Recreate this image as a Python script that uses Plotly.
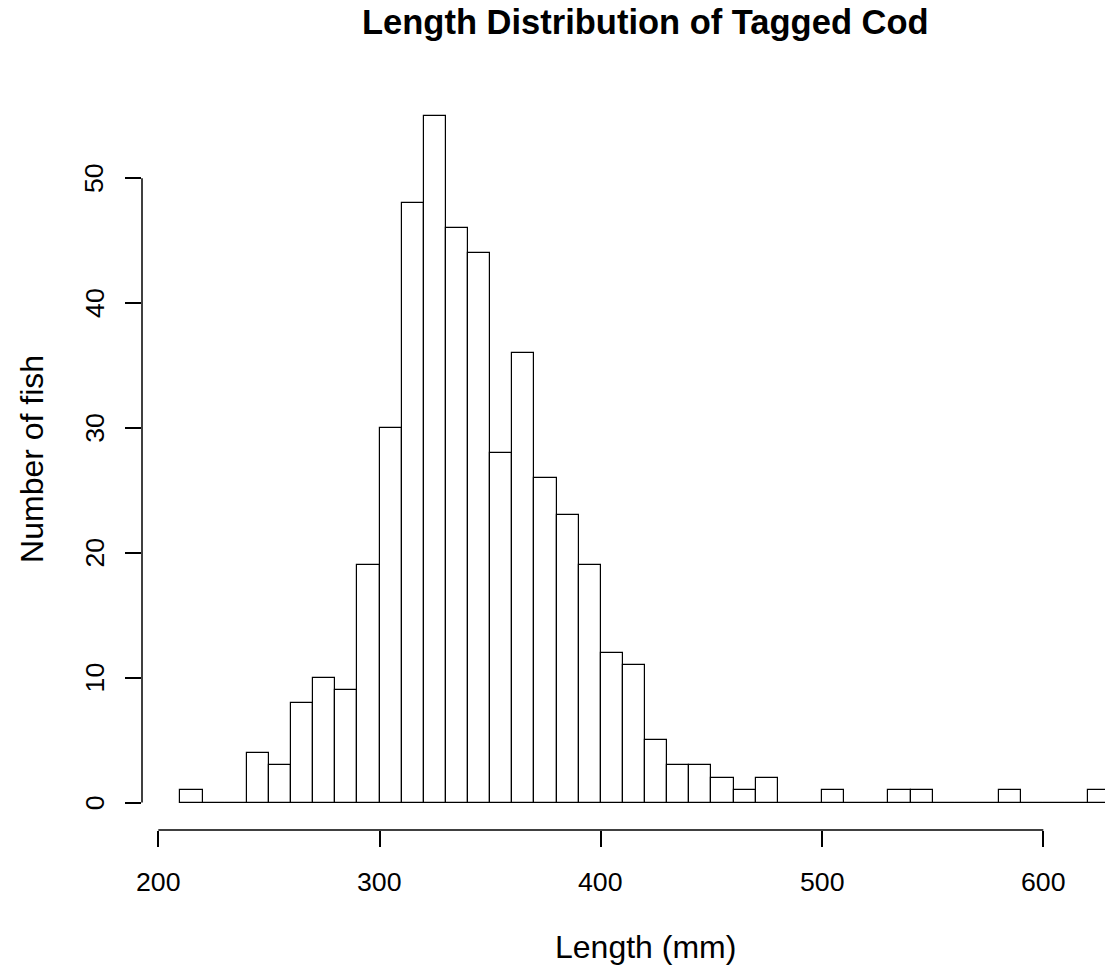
import plotly.graph_objects as go

# Histogram of tagged cod lengths: bins of 10 mm from 210 to 630
bin_starts = list(range(210, 630, 10))
counts = [1, 0, 0, 4, 3, 8, 10, 9, 19, 30,
          48, 55, 46, 44, 28, 36, 26, 23, 19, 12,
          11, 5, 3, 3, 2, 1, 2, 0, 0, 1,
          0, 0, 1, 1, 0, 0, 0, 1, 0, 0,
          0, 1]
bin_width = 10
x_ticks = [200, 300, 400, 500, 600]
y_ticks = [0, 10, 20, 30, 40, 50]

title_text = "Length Distribution of Tagged Cod"
x_label = "Length (mm)"
y_label = "Number of fish"

FONT = "Liberation Sans, Arial, Helvetica, sans-serif"
W, H = 1105, 973
ML, MR, MT, MB = 142, 0, 88, 143
PW, PH = W - ML - MR, H - MT - MB

TICK_SIZE = 26.7
LAB_SIZE = 32
MAIN_SIZE = 34.5
MID = 0.3465  # baseline -> middle of text box, in em

centers = [s + bin_width / 2 for s in bin_starts]

fig = go.Figure()
fig.add_trace(go.Bar(
    x=centers, y=counts, width=bin_width,
    marker=dict(color="white", line=dict(color="black", width=1.2)),
    hoverinfo="x+y", showlegend=False,
))

# baseline under all bins (zero-count bins drawn as flat lines)
fig.add_shape(type="line", xref="x", yref="y",
              x0=bin_starts[0], x1=bin_starts[-1] + bin_width, y0=0, y1=0,
              line=dict(color="black", width=1.2))
# R-style detached axis lines
fig.add_shape(type="line", xref="x", yref="paper",
              x0=x_ticks[0], x1=x_ticks[-1], y0=0, y1=0,
              line=dict(color="black", width=1.5))
fig.add_shape(type="line", xref="paper", yref="y",
              x0=0, x1=0, y0=y_ticks[0], y1=y_ticks[-1],
              line=dict(color="black", width=1.5))

annotations = []
# x tick labels (baseline ~891 px)
for v in x_ticks:
    annotations.append(dict(
        text=str(v), xref="x", x=v, yref="paper", y=0,
        yshift=-(891 - MID * TICK_SIZE - (H - MB)),
        xanchor="center", yanchor="middle", showarrow=False,
        font=dict(family=FONT, size=TICK_SIZE, color="black")))
# y tick labels, rotated (baseline ~x=104 px)
for v in y_ticks:
    annotations.append(dict(
        text=str(v), yref="y", y=v, xref="paper", x=0,
        xshift=-(ML - (104 - MID * TICK_SIZE)), textangle=-90,
        xanchor="center", yanchor="middle", showarrow=False,
        font=dict(family=FONT, size=TICK_SIZE, color="black")))
# axis titles
annotations.append(dict(
    text=x_label, xref="paper", yref="paper",
    x=(645 - ML) / PW, y=1 - ((958 - MID * LAB_SIZE) - MT) / PH,
    xanchor="center", yanchor="middle", showarrow=False,
    font=dict(family=FONT, size=LAB_SIZE, color="black")))
annotations.append(dict(
    text=y_label, xref="paper", yref="paper",
    x=((43 - MID * LAB_SIZE) - ML) / PW, y=1 - (459 - MT) / PH,
    xanchor="center", yanchor="middle", textangle=-90, showarrow=False,
    font=dict(family=FONT, size=LAB_SIZE, color="black")))
# main title
annotations.append(dict(
    text="<b>" + title_text + "</b>", xref="paper", yref="paper",
    x=(645 - ML) / PW, y=1 - ((33.5 - MID * MAIN_SIZE) - MT) / PH,
    xanchor="center", yanchor="middle", showarrow=False,
    font=dict(family=FONT, size=MAIN_SIZE, color="black")))

fig.update_layout(
    width=W, height=H,
    margin=dict(l=ML, r=MR, t=MT, b=MB),
    paper_bgcolor="white", plot_bgcolor="white",
    bargap=0,
    font=dict(family=FONT, color="black"),
    xaxis=dict(range=[192.63, 627.88], tickvals=x_ticks, showticklabels=False,
               ticks="outside", ticklen=16, tickwidth=1.5, tickcolor="black",
               showline=False, showgrid=False, zeroline=False,
               fixedrange=True),
    yaxis=dict(range=[-2.203, 57.24], tickvals=y_ticks, showticklabels=False,
               ticks="outside", ticklen=16, tickwidth=1.5, tickcolor="black",
               showline=False, showgrid=False, zeroline=False,
               fixedrange=True),
    annotations=annotations,
)

fig.write_html("out.html")
